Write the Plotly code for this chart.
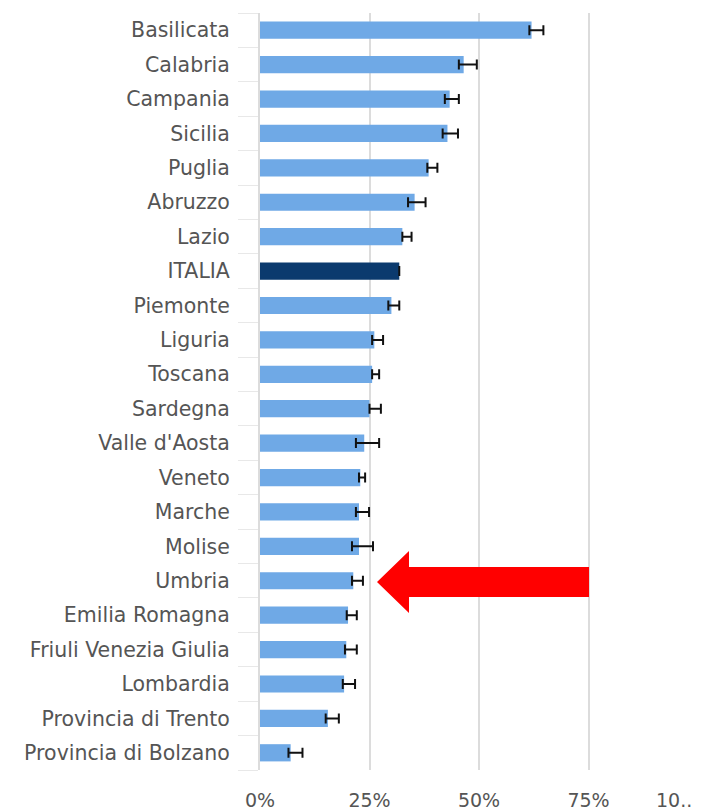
import plotly.graph_objects as go

regions = ["Basilicata", "Calabria", "Campania", "Sicilia", "Puglia", "Abruzzo", "Lazio",
           "ITALIA", "Piemonte", "Liguria", "Toscana", "Sardegna", "Valle d'Aosta", "Veneto",
           "Marche", "Molise", "Umbria", "Emilia Romagna", "Friuli Venezia Giulia",
           "Lombardia", "Provincia di Trento", "Provincia di Bolzano"]
values = [62.0, 46.5, 43.3, 42.8, 38.5, 35.3, 32.5,
          31.8, 30.0, 26.1, 25.6, 25.0, 23.8, 22.9,
          22.6, 22.6, 21.3, 20.1, 19.7, 19.2, 15.5, 7.0]
err_plus = [2.7, 3.0, 2.1, 2.4, 2.0, 2.5, 2.1,
            0.0, 1.8, 2.0, 1.6, 2.6, 3.4, 1.1,
            2.3, 3.2, 2.2, 2.0, 2.4, 2.5, 2.5, 2.7]
err_minus = [0.5, 1.1, 1.1, 1.1, 0.3, 1.5, 0.0,
             0.0, 0.7, 0.5, 0.0, 0.0, 1.9, 0.3,
             0.7, 1.6, 0.3, 0.3, 0.3, 0.3, 0.5, 0.5]
tick_vals = [0, 25, 50, 75, 100]
tick_text = ["0%", "25%", "50%", "75%", "10..."]

colors = ["#0b3a6e" if r == "ITALIA" else "#6fa9e6" for r in regions]
ex_plus = [None if r == "ITALIA" else e for r, e in zip(regions, err_plus)]
ex_minus = [None if r == "ITALIA" else e for r, e in zip(regions, err_minus)]

fig = go.Figure(go.Bar(
    x=values, y=regions, orientation="h",
    marker=dict(color=colors, line=dict(width=0)),
    width=0.5,
    error_x=dict(type="data", symmetric=False, array=ex_plus, arrayminus=ex_minus,
                 color="#111111", thickness=2, width=5),
))

# page is offset by 8px body margin; plot area in page pixels: x 260-698, y 13-770
def px(xp):
    return (xp - 260) / 438.0
def py(yp):
    return (770 - yp) / 757.0

path = (f"M {px(377)} {py(582)} L {px(409)} {py(551)} L {px(409)} {py(567)} "
        f"L {px(589)} {py(567)} L {px(589)} {py(597)} L {px(409)} {py(597)} "
        f"L {px(409)} {py(613)} Z")
fig.add_shape(type="path", xref="paper", yref="paper", path=path,
              fillcolor="#ff0000", line=dict(width=0))

# last tick label, shifted left so it stays inside the picture like in the original
fig.add_annotation(x=tick_vals[-1], xref="x", y=0, yref="paper", yshift=-17, xshift=2,
                   text=tick_text[-1], showarrow=False, xanchor="right", yanchor="top",
                   font=dict(family="DejaVu Sans", size=19, color="#555555"))

fig.update_layout(
    width=693, height=803,
    margin=dict(l=252, r=3, t=5, b=41, autoexpand=False),
    plot_bgcolor="white", paper_bgcolor="white",
    showlegend=False,
    font=dict(family="DejaVu Sans", size=20.5, color="#555555"),
    bargap=0.5,
)
fig.update_xaxes(range=[0, 100], tickvals=tick_vals[:-1], ticktext=tick_text[:-1],
                 showgrid=True, gridcolor="#dcdcdc", gridwidth=2,
                 zeroline=False, showline=False,
                 ticks="outside", ticklen=13, tickcolor="white",
                 tickfont=dict(size=19, color="#555555"), fixedrange=True)
fig.add_shape(type="line", xref="x", yref="paper", x0=100, x1=100, y0=0, y1=1,
              line=dict(color="#dcdcdc", width=2), layer="below")
fig.update_yaxes(categoryorder="array", categoryarray=regions[::-1],
                 showgrid=False, zeroline=False, showline=True,
                 linecolor="#dcdcdc", linewidth=2,
                 ticks="outside", tickson="boundaries", ticklen=20, tickcolor="#e8e8e8",
                 ticklabelstandoff=24)

fig.write_html("out.html")
